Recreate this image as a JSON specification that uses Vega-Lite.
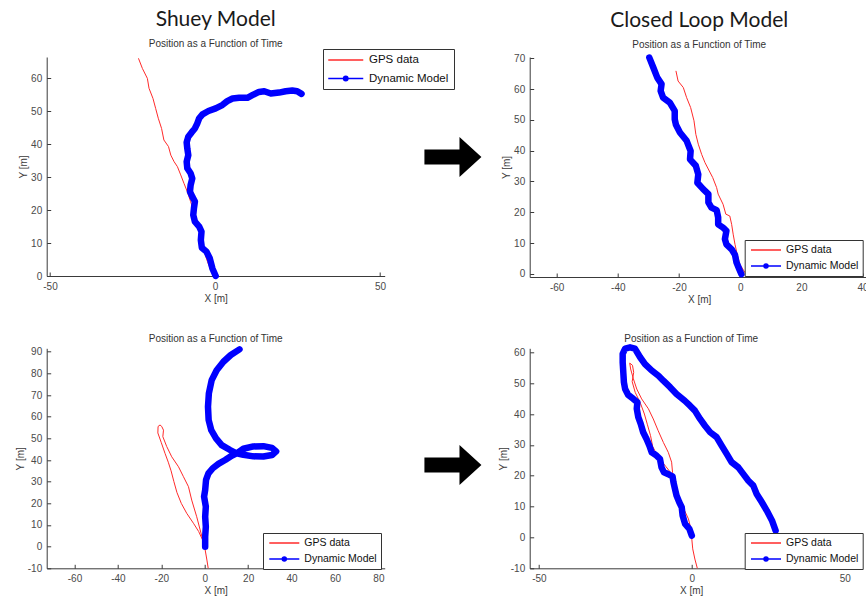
{
  "$schema": "https://vega.github.io/schema/vega-lite/v6.json",
  "autosize": {"type": "none"},
  "padding": {"left": 46.7, "top": 57, "right": 819.3, "bottom": 543},
  "background": "white",
  "datasets": {
    "tl": [
      {"series": "GPS data", "t": 0, "x": -0.3, "y": 0},
      {"series": "GPS data", "t": 1, "x": -1.3, "y": 1.8},
      {"series": "GPS data", "t": 2, "x": -2.3, "y": 4.4},
      {"series": "GPS data", "t": 3, "x": -3.3, "y": 7.4},
      {"series": "GPS data", "t": 4, "x": -4.0, "y": 10.4},
      {"series": "GPS data", "t": 5, "x": -4.8, "y": 13.5},
      {"series": "GPS data", "t": 6, "x": -5.4, "y": 16.5},
      {"series": "GPS data", "t": 7, "x": -6.4, "y": 19.5},
      {"series": "GPS data", "t": 8, "x": -7.4, "y": 22.6},
      {"series": "GPS data", "t": 9, "x": -8.4, "y": 25.6},
      {"series": "GPS data", "t": 10, "x": -9.4, "y": 28.1},
      {"series": "GPS data", "t": 11, "x": -10.4, "y": 30.7},
      {"series": "GPS data", "t": 12, "x": -11.4, "y": 33.2},
      {"series": "GPS data", "t": 13, "x": -12.4, "y": 34.7},
      {"series": "GPS data", "t": 14, "x": -13.4, "y": 36.7},
      {"series": "GPS data", "t": 15, "x": -14.1, "y": 39.3},
      {"series": "GPS data", "t": 16, "x": -15.5, "y": 41.3},
      {"series": "GPS data", "t": 17, "x": -16.2, "y": 44.8},
      {"series": "GPS data", "t": 18, "x": -17.2, "y": 47.9},
      {"series": "GPS data", "t": 19, "x": -18.0, "y": 50.9},
      {"series": "GPS data", "t": 20, "x": -18.8, "y": 53.9},
      {"series": "GPS data", "t": 21, "x": -20.0, "y": 57.0},
      {"series": "GPS data", "t": 22, "x": -20.5, "y": 60.0},
      {"series": "GPS data", "t": 23, "x": -22.0, "y": 63.0},
      {"series": "GPS data", "t": 24, "x": -23.2, "y": 66.1},
      {"series": "Dynamic Model", "t": 0, "x": 0.2, "y": 0},
      {"series": "Dynamic Model", "t": 1, "x": -0.8, "y": 2.3},
      {"series": "Dynamic Model", "t": 2, "x": -1.6, "y": 5.4},
      {"series": "Dynamic Model", "t": 3, "x": -2.6, "y": 7.4},
      {"series": "Dynamic Model", "t": 4, "x": -4.0, "y": 8.6},
      {"series": "Dynamic Model", "t": 5, "x": -4.3, "y": 10.9},
      {"series": "Dynamic Model", "t": 6, "x": -4.1, "y": 13.5},
      {"series": "Dynamic Model", "t": 7, "x": -4.8, "y": 15.0},
      {"series": "Dynamic Model", "t": 8, "x": -6.1, "y": 16.5},
      {"series": "Dynamic Model", "t": 9, "x": -6.6, "y": 18.5},
      {"series": "Dynamic Model", "t": 10, "x": -6.4, "y": 20.5},
      {"series": "Dynamic Model", "t": 11, "x": -6.1, "y": 22.6},
      {"series": "Dynamic Model", "t": 12, "x": -6.9, "y": 24.1},
      {"series": "Dynamic Model", "t": 13, "x": -7.6, "y": 25.6},
      {"series": "Dynamic Model", "t": 14, "x": -7.4, "y": 27.6},
      {"series": "Dynamic Model", "t": 15, "x": -6.9, "y": 29.6},
      {"series": "Dynamic Model", "t": 16, "x": -7.4, "y": 31.2},
      {"series": "Dynamic Model", "t": 17, "x": -8.4, "y": 32.7},
      {"series": "Dynamic Model", "t": 18, "x": -8.6, "y": 34.7},
      {"series": "Dynamic Model", "t": 19, "x": -8.1, "y": 36.7},
      {"series": "Dynamic Model", "t": 20, "x": -8.4, "y": 38.7},
      {"series": "Dynamic Model", "t": 21, "x": -8.6, "y": 40.6},
      {"series": "Dynamic Model", "t": 22, "x": -8.1, "y": 42.3},
      {"series": "Dynamic Model", "t": 23, "x": -7.1, "y": 43.6},
      {"series": "Dynamic Model", "t": 24, "x": -6.1, "y": 44.8},
      {"series": "Dynamic Model", "t": 25, "x": -5.4, "y": 46.3},
      {"series": "Dynamic Model", "t": 26, "x": -4.8, "y": 47.9},
      {"series": "Dynamic Model", "t": 27, "x": -3.8, "y": 49.1},
      {"series": "Dynamic Model", "t": 28, "x": -2.0, "y": 50.1},
      {"series": "Dynamic Model", "t": 29, "x": 0.2, "y": 50.9},
      {"series": "Dynamic Model", "t": 30, "x": 2.2, "y": 51.9},
      {"series": "Dynamic Model", "t": 31, "x": 3.7, "y": 53.1},
      {"series": "Dynamic Model", "t": 32, "x": 5.3, "y": 53.9},
      {"series": "Dynamic Model", "t": 33, "x": 7.3, "y": 54.1},
      {"series": "Dynamic Model", "t": 34, "x": 9.8, "y": 54.1},
      {"series": "Dynamic Model", "t": 35, "x": 11.3, "y": 54.9},
      {"series": "Dynamic Model", "t": 36, "x": 13.3, "y": 55.9},
      {"series": "Dynamic Model", "t": 37, "x": 14.9, "y": 56.1},
      {"series": "Dynamic Model", "t": 38, "x": 16.9, "y": 55.4},
      {"series": "Dynamic Model", "t": 39, "x": 19.4, "y": 55.7},
      {"series": "Dynamic Model", "t": 40, "x": 21.4, "y": 56.1},
      {"series": "Dynamic Model", "t": 41, "x": 23.4, "y": 56.3},
      {"series": "Dynamic Model", "t": 42, "x": 24.9, "y": 56.1},
      {"series": "Dynamic Model", "t": 43, "x": 26.2, "y": 55.3}
    ],
    "tr": [
      {"series": "GPS data", "t": 0, "x": 2.1, "y": -0.3},
      {"series": "GPS data", "t": 1, "x": 1.2, "y": 1.0},
      {"series": "GPS data", "t": 2, "x": -0.1, "y": 3.1},
      {"series": "GPS data", "t": 3, "x": -1.0, "y": 6.4},
      {"series": "GPS data", "t": 4, "x": -1.7, "y": 9.6},
      {"series": "GPS data", "t": 5, "x": -2.3, "y": 12.9},
      {"series": "GPS data", "t": 6, "x": -2.8, "y": 16.1},
      {"series": "GPS data", "t": 7, "x": -3.4, "y": 18.8},
      {"series": "GPS data", "t": 8, "x": -4.7, "y": 19.4},
      {"series": "GPS data", "t": 9, "x": -5.6, "y": 22.6},
      {"series": "GPS data", "t": 10, "x": -7.2, "y": 25.9},
      {"series": "GPS data", "t": 11, "x": -7.7, "y": 28.0},
      {"series": "GPS data", "t": 12, "x": -9.0, "y": 31.3},
      {"series": "GPS data", "t": 13, "x": -10.1, "y": 33.4},
      {"series": "GPS data", "t": 14, "x": -11.5, "y": 36.1},
      {"series": "GPS data", "t": 15, "x": -12.6, "y": 38.8},
      {"series": "GPS data", "t": 16, "x": -13.7, "y": 42.1},
      {"series": "GPS data", "t": 17, "x": -14.5, "y": 45.3},
      {"series": "GPS data", "t": 18, "x": -15.1, "y": 49.7},
      {"series": "GPS data", "t": 19, "x": -16.2, "y": 54.0},
      {"series": "GPS data", "t": 20, "x": -17.5, "y": 57.2},
      {"series": "GPS data", "t": 21, "x": -18.6, "y": 60.5},
      {"series": "GPS data", "t": 22, "x": -20.3, "y": 62.6},
      {"series": "GPS data", "t": 23, "x": -21.0, "y": 65.9},
      {"series": "Dynamic Model", "t": 0, "x": 0.4, "y": -0.1},
      {"series": "Dynamic Model", "t": 1, "x": -0.3, "y": 1.5},
      {"series": "Dynamic Model", "t": 2, "x": -1.2, "y": 3.7},
      {"series": "Dynamic Model", "t": 3, "x": -1.7, "y": 6.2},
      {"series": "Dynamic Model", "t": 4, "x": -2.8, "y": 8.0},
      {"series": "Dynamic Model", "t": 5, "x": -4.5, "y": 9.6},
      {"series": "Dynamic Model", "t": 6, "x": -5.0, "y": 11.3},
      {"series": "Dynamic Model", "t": 7, "x": -4.5, "y": 14.0},
      {"series": "Dynamic Model", "t": 8, "x": -5.6, "y": 15.0},
      {"series": "Dynamic Model", "t": 9, "x": -7.2, "y": 16.1},
      {"series": "Dynamic Model", "t": 10, "x": -7.2, "y": 18.3},
      {"series": "Dynamic Model", "t": 11, "x": -7.7, "y": 20.7},
      {"series": "Dynamic Model", "t": 12, "x": -9.4, "y": 21.5},
      {"series": "Dynamic Model", "t": 13, "x": -10.4, "y": 23.2},
      {"series": "Dynamic Model", "t": 14, "x": -10.4, "y": 25.9},
      {"series": "Dynamic Model", "t": 15, "x": -12.1, "y": 27.5},
      {"series": "Dynamic Model", "t": 16, "x": -14.0, "y": 29.6},
      {"series": "Dynamic Model", "t": 17, "x": -13.7, "y": 32.3},
      {"series": "Dynamic Model", "t": 18, "x": -14.5, "y": 35.1},
      {"series": "Dynamic Model", "t": 19, "x": -16.4, "y": 37.2},
      {"series": "Dynamic Model", "t": 20, "x": -16.2, "y": 39.9},
      {"series": "Dynamic Model", "t": 21, "x": -17.5, "y": 43.2},
      {"series": "Dynamic Model", "t": 22, "x": -19.7, "y": 45.9},
      {"series": "Dynamic Model", "t": 23, "x": -21.0, "y": 48.4},
      {"series": "Dynamic Model", "t": 24, "x": -21.4, "y": 50.2},
      {"series": "Dynamic Model", "t": 25, "x": -21.4, "y": 52.9},
      {"series": "Dynamic Model", "t": 26, "x": -23.0, "y": 55.6},
      {"series": "Dynamic Model", "t": 27, "x": -25.2, "y": 57.2},
      {"series": "Dynamic Model", "t": 28, "x": -26.0, "y": 59.4},
      {"series": "Dynamic Model", "t": 29, "x": -25.7, "y": 61.6},
      {"series": "Dynamic Model", "t": 30, "x": -27.1, "y": 63.7},
      {"series": "Dynamic Model", "t": 31, "x": -28.4, "y": 67.0},
      {"series": "Dynamic Model", "t": 32, "x": -29.7, "y": 70.2}
    ],
    "bl": [
      {"series": "GPS data", "t": 0, "x": 1.6, "y": -10},
      {"series": "GPS data", "t": 1, "x": 1.0, "y": -6.2},
      {"series": "GPS data", "t": 2, "x": 0.2, "y": -1.5},
      {"series": "GPS data", "t": 3, "x": -1.0, "y": 3.1},
      {"series": "GPS data", "t": 4, "x": -2.8, "y": 7.0},
      {"series": "GPS data", "t": 5, "x": -5.2, "y": 10.8},
      {"series": "GPS data", "t": 6, "x": -8.3, "y": 15.4},
      {"series": "GPS data", "t": 7, "x": -10.8, "y": 20.0},
      {"series": "GPS data", "t": 8, "x": -12.8, "y": 25.0},
      {"series": "GPS data", "t": 9, "x": -14.2, "y": 30.0},
      {"series": "GPS data", "t": 10, "x": -15.5, "y": 35.0},
      {"series": "GPS data", "t": 11, "x": -16.8, "y": 39.0},
      {"series": "GPS data", "t": 12, "x": -18.3, "y": 43.1},
      {"series": "GPS data", "t": 13, "x": -20.0, "y": 48.0},
      {"series": "GPS data", "t": 14, "x": -21.6, "y": 52.5},
      {"series": "GPS data", "t": 15, "x": -21.5, "y": 55.5},
      {"series": "GPS data", "t": 16, "x": -20.6, "y": 56.2},
      {"series": "GPS data", "t": 17, "x": -19.8, "y": 55.5},
      {"series": "GPS data", "t": 18, "x": -19.0, "y": 53.8},
      {"series": "GPS data", "t": 19, "x": -19.3, "y": 50.8},
      {"series": "GPS data", "t": 20, "x": -17.5, "y": 46.2},
      {"series": "GPS data", "t": 21, "x": -15.2, "y": 41.5},
      {"series": "GPS data", "t": 22, "x": -12.1, "y": 36.9},
      {"series": "GPS data", "t": 23, "x": -9.8, "y": 32.3},
      {"series": "GPS data", "t": 24, "x": -7.5, "y": 27.7},
      {"series": "GPS data", "t": 25, "x": -6.0, "y": 21.5},
      {"series": "GPS data", "t": 26, "x": -3.7, "y": 13.8},
      {"series": "GPS data", "t": 27, "x": -2.1, "y": 7.7},
      {"series": "GPS data", "t": 28, "x": -0.9, "y": 3.1},
      {"series": "GPS data", "t": 29, "x": -0.2, "y": 1.0},
      {"series": "Dynamic Model", "t": 0, "x": 0.2, "y": 0},
      {"series": "Dynamic Model", "t": 1, "x": 0.2, "y": 4.6},
      {"series": "Dynamic Model", "t": 2, "x": 0.5, "y": 9.2},
      {"series": "Dynamic Model", "t": 3, "x": 0.2, "y": 13.8},
      {"series": "Dynamic Model", "t": 4, "x": 0.5, "y": 18.5},
      {"series": "Dynamic Model", "t": 5, "x": -0.3, "y": 23.1},
      {"series": "Dynamic Model", "t": 6, "x": 0.2, "y": 26.2},
      {"series": "Dynamic Model", "t": 7, "x": 0.6, "y": 30.8},
      {"series": "Dynamic Model", "t": 8, "x": 1.7, "y": 33.8},
      {"series": "Dynamic Model", "t": 9, "x": 3.7, "y": 36.2},
      {"series": "Dynamic Model", "t": 10, "x": 6.3, "y": 38.2},
      {"series": "Dynamic Model", "t": 11, "x": 9.4, "y": 40.0},
      {"series": "Dynamic Model", "t": 12, "x": 12.4, "y": 42.0},
      {"series": "Dynamic Model", "t": 13, "x": 14.7, "y": 43.1},
      {"series": "Dynamic Model", "t": 14, "x": 17.8, "y": 45.2},
      {"series": "Dynamic Model", "t": 15, "x": 22.4, "y": 46.3},
      {"series": "Dynamic Model", "t": 16, "x": 27.0, "y": 46.4},
      {"series": "Dynamic Model", "t": 17, "x": 31.0, "y": 45.6},
      {"series": "Dynamic Model", "t": 18, "x": 32.9, "y": 44.0},
      {"series": "Dynamic Model", "t": 19, "x": 31.0, "y": 42.3},
      {"series": "Dynamic Model", "t": 20, "x": 27.0, "y": 41.6},
      {"series": "Dynamic Model", "t": 21, "x": 22.4, "y": 41.7},
      {"series": "Dynamic Model", "t": 22, "x": 17.8, "y": 42.4},
      {"series": "Dynamic Model", "t": 23, "x": 14.7, "y": 43.1},
      {"series": "Dynamic Model", "t": 24, "x": 11.7, "y": 44.6},
      {"series": "Dynamic Model", "t": 25, "x": 7.8, "y": 46.9},
      {"series": "Dynamic Model", "t": 26, "x": 5.2, "y": 50.0},
      {"series": "Dynamic Model", "t": 27, "x": 3.0, "y": 53.8},
      {"series": "Dynamic Model", "t": 28, "x": 1.8, "y": 58.5},
      {"series": "Dynamic Model", "t": 29, "x": 1.5, "y": 64.6},
      {"series": "Dynamic Model", "t": 30, "x": 1.9, "y": 70.8},
      {"series": "Dynamic Model", "t": 31, "x": 3.2, "y": 76.9},
      {"series": "Dynamic Model", "t": 32, "x": 5.5, "y": 81.5},
      {"series": "Dynamic Model", "t": 33, "x": 8.6, "y": 85.4},
      {"series": "Dynamic Model", "t": 34, "x": 12.0, "y": 88.5},
      {"series": "Dynamic Model", "t": 35, "x": 16.0, "y": 91.1}
    ],
    "br": [
      {"series": "GPS data", "t": 0, "x": 1.8, "y": -10},
      {"series": "GPS data", "t": 1, "x": 1.0, "y": -7.0},
      {"series": "GPS data", "t": 2, "x": 0.3, "y": -3.7},
      {"series": "GPS data", "t": 3, "x": 0.0, "y": -0.5},
      {"series": "GPS data", "t": 4, "x": -0.3, "y": 2.8},
      {"series": "GPS data", "t": 5, "x": -1.1, "y": 6.0},
      {"series": "GPS data", "t": 6, "x": -2.6, "y": 9.2},
      {"series": "GPS data", "t": 7, "x": -3.9, "y": 12.5},
      {"series": "GPS data", "t": 8, "x": -5.2, "y": 15.2},
      {"series": "GPS data", "t": 9, "x": -6.0, "y": 18.0},
      {"series": "GPS data", "t": 10, "x": -6.3, "y": 21.1},
      {"series": "GPS data", "t": 11, "x": -6.6, "y": 24.4},
      {"series": "GPS data", "t": 12, "x": -7.7, "y": 27.6},
      {"series": "GPS data", "t": 13, "x": -9.3, "y": 30.8},
      {"series": "GPS data", "t": 14, "x": -11.0, "y": 34.6},
      {"series": "GPS data", "t": 15, "x": -12.6, "y": 38.4},
      {"series": "GPS data", "t": 16, "x": -14.2, "y": 41.7},
      {"series": "GPS data", "t": 17, "x": -16.4, "y": 44.9},
      {"series": "GPS data", "t": 18, "x": -18.0, "y": 48.1},
      {"series": "GPS data", "t": 19, "x": -19.1, "y": 51.4},
      {"series": "GPS data", "t": 20, "x": -20.0, "y": 54.6},
      {"series": "GPS data", "t": 21, "x": -20.3, "y": 56.5},
      {"series": "GPS data", "t": 22, "x": -19.4, "y": 55.8},
      {"series": "GPS data", "t": 23, "x": -19.0, "y": 53.5},
      {"series": "GPS data", "t": 24, "x": -19.5, "y": 50.5},
      {"series": "GPS data", "t": 25, "x": -18.5, "y": 47.0},
      {"series": "GPS data", "t": 26, "x": -16.8, "y": 43.5},
      {"series": "GPS data", "t": 27, "x": -15.5, "y": 40.0},
      {"series": "GPS data", "t": 28, "x": -14.5, "y": 36.5},
      {"series": "GPS data", "t": 29, "x": -13.5, "y": 33.0},
      {"series": "GPS data", "t": 30, "x": -12.8, "y": 29.5},
      {"series": "GPS data", "t": 31, "x": -11.0, "y": 26.0},
      {"series": "GPS data", "t": 32, "x": -8.5, "y": 23.0},
      {"series": "GPS data", "t": 33, "x": -6.5, "y": 20.5},
      {"series": "Dynamic Model", "t": 0, "x": 0.0, "y": 0.6},
      {"series": "Dynamic Model", "t": 1, "x": -0.8, "y": 2.8},
      {"series": "Dynamic Model", "t": 2, "x": -2.2, "y": 4.4},
      {"series": "Dynamic Model", "t": 3, "x": -3.0, "y": 7.1},
      {"series": "Dynamic Model", "t": 4, "x": -3.3, "y": 9.8},
      {"series": "Dynamic Model", "t": 5, "x": -4.1, "y": 11.4},
      {"series": "Dynamic Model", "t": 6, "x": -5.0, "y": 13.6},
      {"series": "Dynamic Model", "t": 7, "x": -5.5, "y": 15.7},
      {"series": "Dynamic Model", "t": 8, "x": -6.0, "y": 17.9},
      {"series": "Dynamic Model", "t": 9, "x": -6.3, "y": 19.8},
      {"series": "Dynamic Model", "t": 10, "x": -7.3, "y": 20.3},
      {"series": "Dynamic Model", "t": 11, "x": -9.1, "y": 21.1},
      {"series": "Dynamic Model", "t": 12, "x": -9.9, "y": 22.7},
      {"series": "Dynamic Model", "t": 13, "x": -10.4, "y": 25.4},
      {"series": "Dynamic Model", "t": 14, "x": -11.5, "y": 26.5},
      {"series": "Dynamic Model", "t": 15, "x": -13.1, "y": 27.6},
      {"series": "Dynamic Model", "t": 16, "x": -13.9, "y": 29.8},
      {"series": "Dynamic Model", "t": 17, "x": -14.8, "y": 31.9},
      {"series": "Dynamic Model", "t": 18, "x": -15.9, "y": 34.1},
      {"series": "Dynamic Model", "t": 19, "x": -16.7, "y": 36.8},
      {"series": "Dynamic Model", "t": 20, "x": -17.5, "y": 39.0},
      {"series": "Dynamic Model", "t": 21, "x": -18.0, "y": 41.7},
      {"series": "Dynamic Model", "t": 22, "x": -17.8, "y": 43.8},
      {"series": "Dynamic Model", "t": 23, "x": -19.1, "y": 44.9},
      {"series": "Dynamic Model", "t": 24, "x": -20.8, "y": 46.2},
      {"series": "Dynamic Model", "t": 25, "x": -21.8, "y": 48.1},
      {"series": "Dynamic Model", "t": 26, "x": -22.2, "y": 50.3},
      {"series": "Dynamic Model", "t": 27, "x": -22.4, "y": 53.5},
      {"series": "Dynamic Model", "t": 28, "x": -22.6, "y": 56.8},
      {"series": "Dynamic Model", "t": 29, "x": -22.6, "y": 59.5},
      {"series": "Dynamic Model", "t": 30, "x": -21.8, "y": 61.2},
      {"series": "Dynamic Model", "t": 31, "x": -20.2, "y": 61.6},
      {"series": "Dynamic Model", "t": 32, "x": -18.6, "y": 61.2},
      {"series": "Dynamic Model", "t": 33, "x": -16.9, "y": 58.4},
      {"series": "Dynamic Model", "t": 34, "x": -15.3, "y": 56.2},
      {"series": "Dynamic Model", "t": 35, "x": -13.1, "y": 54.1},
      {"series": "Dynamic Model", "t": 36, "x": -10.9, "y": 52.4},
      {"series": "Dynamic Model", "t": 37, "x": -9.3, "y": 50.8},
      {"series": "Dynamic Model", "t": 38, "x": -7.1, "y": 48.7},
      {"series": "Dynamic Model", "t": 39, "x": -5.0, "y": 46.5},
      {"series": "Dynamic Model", "t": 40, "x": -2.3, "y": 44.3},
      {"series": "Dynamic Model", "t": 41, "x": -0.6, "y": 42.7},
      {"series": "Dynamic Model", "t": 42, "x": 1.0, "y": 41.1},
      {"series": "Dynamic Model", "t": 43, "x": 2.7, "y": 38.4},
      {"series": "Dynamic Model", "t": 44, "x": 4.3, "y": 36.2},
      {"series": "Dynamic Model", "t": 45, "x": 6.0, "y": 34.1},
      {"series": "Dynamic Model", "t": 46, "x": 8.1, "y": 32.5},
      {"series": "Dynamic Model", "t": 47, "x": 9.8, "y": 29.7},
      {"series": "Dynamic Model", "t": 48, "x": 11.4, "y": 27.1},
      {"series": "Dynamic Model", "t": 49, "x": 13.0, "y": 24.4},
      {"series": "Dynamic Model", "t": 50, "x": 15.2, "y": 22.7},
      {"series": "Dynamic Model", "t": 51, "x": 16.8, "y": 20.6},
      {"series": "Dynamic Model", "t": 52, "x": 18.5, "y": 18.4},
      {"series": "Dynamic Model", "t": 53, "x": 20.1, "y": 16.8},
      {"series": "Dynamic Model", "t": 54, "x": 21.2, "y": 14.1},
      {"series": "Dynamic Model", "t": 55, "x": 22.9, "y": 11.4},
      {"series": "Dynamic Model", "t": 56, "x": 24.5, "y": 8.7},
      {"series": "Dynamic Model", "t": 57, "x": 26.2, "y": 5.5},
      {"series": "Dynamic Model", "t": 58, "x": 27.4, "y": 2.2}
    ],
    "step": [{"from": "Shuey Model", "to": "Closed Loop Model"}]
  },
  "columns": 3,
  "bounds": "flush",
  "spacing": {"row": 71.3, "column": 20},
  "resolve": {"scale": {"color": "independent"}, "legend": {"color": "independent"}},
  "concat": [
    {
      "width": 338, "height": 219,
      "title": {"text": "Shuey Model", "subtitle": "Position as a Function of Time", "font": "Lato", "fontSize": 21, "fontWeight": "normal", "color": "#1a1a1a", "subtitleFont": "Liberation Sans", "subtitleFontSize": 10, "subtitleColor": "#333333", "subtitlePadding": 9, "offset": 0, "frame": "group", "anchor": "middle"},
      "data": {"name": "tl"},
      "encoding": {
        "x": {"field": "x", "type": "quantitative", "scale": {"domain": [-51, 51.4], "nice": false, "zero": false}, "axis": {"values": [-50, 0, 50], "title": "X [m]"}},
        "y": {"field": "y", "type": "quantitative", "scale": {"domain": [0, 66.5], "nice": false, "zero": false}, "axis": {"values": [0, 10, 20, 30, 40, 50, 60], "title": "Y [m]"}},
        "order": {"field": "t", "type": "quantitative"},
        "color": {"field": "series", "type": "nominal", "scale": {"domain": ["GPS data", "Dynamic Model"], "range": ["#ff2a2a", "#0000ff"]},
          "legend": {"title": null, "orient": "none", "legendX": 276.3, "legendY": -8, "padding": 5, "rowPadding": 6.5, "labelFontSize": 11.5, "symbolSize": 100, "symbolOffset": 11.75, "labelOffset": 17.25,
            "encode": {"symbols": {"update": {"strokeWidth": {"value": 1.5}, "shape": {"signal": "datum.value === 'Dynamic Model' ? 'M-3.5,0L3.5,0M-0.44,0A0.44,0.44 0 1,0 0.44,0A0.44,0.44 0 1,0 -0.44,0Z' : 'M-3.5,0L3.5,0'"}, "fill": {"signal": "datum.value === 'Dynamic Model' ? '#0000ff' : 'transparent'"}}}}}}
      },
      "layer": [
        {"transform": [{"filter": "datum.series === 'GPS data'"}], "mark": {"type": "line", "strokeWidth": 1}},
        {"transform": [{"filter": "datum.series === 'Dynamic Model'"}], "mark": {"type": "line", "strokeWidth": 6.5, "strokeCap": "round", "strokeJoin": "round"}}
      ]
    },
    {
      "width": 105, "height": 200,
      "data": {"name": "step"},
      "mark": {"type": "point", "shape": "M-1.15,-0.26L0.08,-0.26L0.08,-0.7L0.85,0L0.08,0.7L0.08,0.26L-1.15,0.26Z", "size": 3249, "filled": true, "color": "#000000", "opacity": 1},
      "encoding": {}
    },
    {
      "width": 339, "height": 220,
      "title": {"text": "Closed Loop Model", "subtitle": "Position as a Function of Time", "font": "Lato", "fontSize": 21, "fontWeight": "normal", "color": "#1a1a1a", "subtitleFont": "Liberation Sans", "subtitleFontSize": 10, "subtitleColor": "#333333", "subtitlePadding": 9, "offset": 3, "frame": "group", "anchor": "middle"},
      "data": {"name": "tr"},
      "encoding": {
        "x": {"field": "x", "type": "quantitative", "scale": {"domain": [-68.8, 42], "nice": false, "zero": false}, "axis": {"values": [-60, -40, -20, 0, 20, 40], "title": "X [m]"}},
        "y": {"field": "y", "type": "quantitative", "scale": {"domain": [-1, 70.4], "nice": false, "zero": false}, "axis": {"values": [0, 10, 20, 30, 40, 50, 60, 70], "title": "Y [m]"}},
        "order": {"field": "t", "type": "quantitative"},
        "color": {"field": "series", "type": "nominal", "scale": {"domain": ["GPS data", "Dynamic Model"], "range": ["#ff2a2a", "#0000ff"]},
          "legend": {"title": null, "orient": "none", "legendX": 215, "legendY": 183, "padding": 4, "rowPadding": 4, "labelFontSize": 10.5, "symbolSize": 100, "symbolOffset": 11.3, "labelOffset": 14,
            "encode": {"symbols": {"update": {"strokeWidth": {"value": 1.5}, "shape": {"signal": "datum.value === 'Dynamic Model' ? 'M-3,0L3,0M-0.4,0A0.4,0.4 0 1,0 0.4,0A0.4,0.4 0 1,0 -0.4,0Z' : 'M-3,0L3,0'"}, "fill": {"signal": "datum.value === 'Dynamic Model' ? '#0000ff' : 'transparent'"}}}}}}
      },
      "layer": [
        {"transform": [{"filter": "datum.series === 'GPS data'"}], "mark": {"type": "line", "strokeWidth": 1}},
        {"transform": [{"filter": "datum.series === 'Dynamic Model'"}], "mark": {"type": "line", "strokeWidth": 6.5, "strokeCap": "round", "strokeJoin": "round"}}
      ]
    },
    {
      "width": 338, "height": 220,
      "title": {"text": "Position as a Function of Time", "font": "Liberation Sans", "fontSize": 10, "fontWeight": "normal", "color": "#333333", "offset": 2.3, "frame": "group", "anchor": "middle"},
      "data": {"name": "bl"},
      "encoding": {
        "x": {"field": "x", "type": "quantitative", "scale": {"domain": [-72.8, 82.9], "nice": false, "zero": false}, "axis": {"values": [-60, -40, -20, 0, 20, 40, 60, 80], "title": "X [m]"}},
        "y": {"field": "y", "type": "quantitative", "scale": {"domain": [-10, 91.6], "nice": false, "zero": false}, "axis": {"values": [-10, 0, 10, 20, 30, 40, 50, 60, 70, 80, 90], "title": "Y [m]"}},
        "order": {"field": "t", "type": "quantitative"},
        "color": {"field": "series", "type": "nominal", "scale": {"domain": ["GPS data", "Dynamic Model"], "range": ["#ff2a2a", "#0000ff"]},
          "legend": {"title": null, "orient": "none", "legendX": 216.3, "legendY": 184.7, "padding": 4, "rowPadding": 4, "labelFontSize": 10.5, "symbolSize": 100, "symbolOffset": 11.3, "labelOffset": 14,
            "encode": {"symbols": {"update": {"strokeWidth": {"value": 1.5}, "shape": {"signal": "datum.value === 'Dynamic Model' ? 'M-3,0L3,0M-0.4,0A0.4,0.4 0 1,0 0.4,0A0.4,0.4 0 1,0 -0.4,0Z' : 'M-3,0L3,0'"}, "fill": {"signal": "datum.value === 'Dynamic Model' ? '#0000ff' : 'transparent'"}}}}}}
      },
      "layer": [
        {"transform": [{"filter": "datum.series === 'GPS data'"}], "mark": {"type": "line", "strokeWidth": 1}},
        {"transform": [{"filter": "datum.series === 'Dynamic Model'"}], "mark": {"type": "line", "strokeWidth": 6.5, "strokeCap": "round", "strokeJoin": "round"}}
      ]
    },
    {
      "width": 105, "height": 233.4,
      "data": {"name": "step"},
      "mark": {"type": "point", "shape": "M-1.15,-0.26L0.08,-0.26L0.08,-0.7L0.85,0L0.08,0.7L0.08,0.26L-1.15,0.26Z", "size": 3249, "filled": true, "color": "#000000", "opacity": 1},
      "encoding": {}
    },
    {
      "width": 323, "height": 220,
      "title": {"text": "Position as a Function of Time", "font": "Liberation Sans", "fontSize": 10, "fontWeight": "normal", "color": "#333333", "offset": 0.3, "frame": "group", "anchor": "middle"},
      "data": {"name": "br"},
      "encoding": {
        "x": {"field": "x", "type": "quantitative", "scale": {"domain": [-53, 52.6], "nice": false, "zero": false}, "axis": {"values": [-50, 0, 50], "title": "X [m]"}},
        "y": {"field": "y", "type": "quantitative", "scale": {"domain": [-10, 61.3], "nice": false, "zero": false}, "axis": {"values": [-10, 0, 10, 20, 30, 40, 50, 60], "title": "Y [m]"}},
        "order": {"field": "t", "type": "quantitative"},
        "color": {"field": "series", "type": "nominal", "scale": {"domain": ["GPS data", "Dynamic Model"], "range": ["#ff2a2a", "#0000ff"]},
          "legend": {"title": null, "orient": "none", "legendX": 215, "legendY": 184.7, "padding": 4, "rowPadding": 4, "labelFontSize": 10.5, "symbolSize": 100, "symbolOffset": 11.3, "labelOffset": 14,
            "encode": {"symbols": {"update": {"strokeWidth": {"value": 1.5}, "shape": {"signal": "datum.value === 'Dynamic Model' ? 'M-3,0L3,0M-0.4,0A0.4,0.4 0 1,0 0.4,0A0.4,0.4 0 1,0 -0.4,0Z' : 'M-3,0L3,0'"}, "fill": {"signal": "datum.value === 'Dynamic Model' ? '#0000ff' : 'transparent'"}}}}}}
      },
      "layer": [
        {"transform": [{"filter": "datum.series === 'GPS data'"}], "mark": {"type": "line", "strokeWidth": 1}},
        {"transform": [{"filter": "datum.series === 'Dynamic Model'"}], "mark": {"type": "line", "strokeWidth": 6.5, "strokeCap": "round", "strokeJoin": "round"}}
      ]
    }
  ],
  "config": {
    "view": {"stroke": null},
    "axis": {"grid": false, "domainColor": "#3a3a3a", "domainWidth": 1, "tickColor": "#3a3a3a", "tickSize": -4, "labelPadding": 9, "labelFont": "Liberation Sans", "labelFontSize": 10, "labelColor": "#4a4a4a", "titleFont": "Liberation Sans", "titleFontSize": 10, "titleFontWeight": "normal", "titleColor": "#3a3a3a", "titlePadding": 2, "labelFlush": false, "labelOverlap": false, "labelBound": false, "labelExpr": "replace(datum.label, '−', '-')"},
    "legend": {"strokeColor": "#333333", "fillColor": "#ffffff", "labelFont": "Liberation Sans", "labelColor": "#111111", "symbolStrokeWidth": 1.5, "labelLimit": 200}
  }
}
